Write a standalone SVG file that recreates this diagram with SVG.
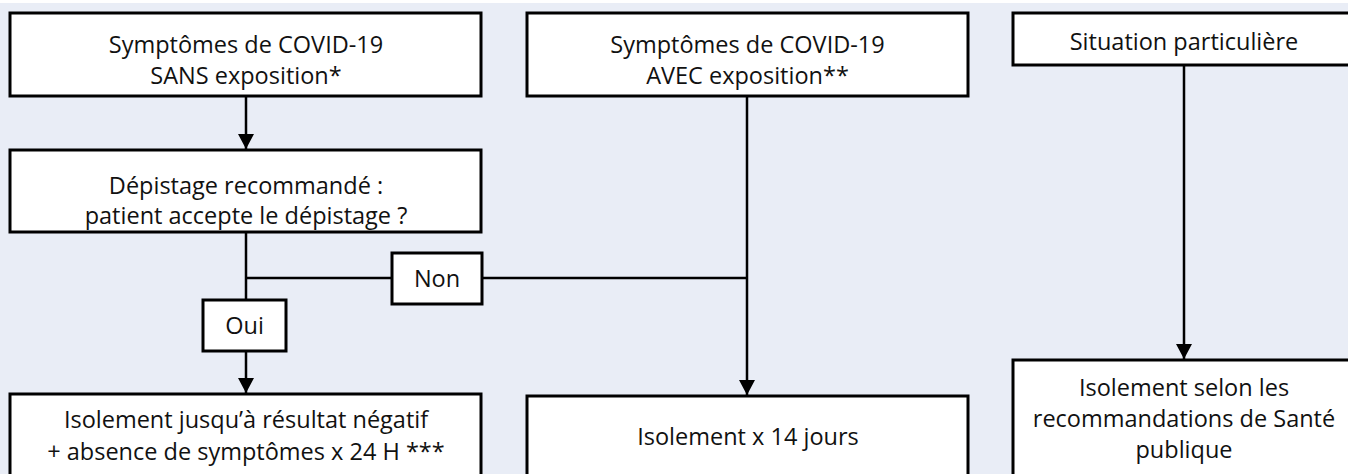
<svg xmlns="http://www.w3.org/2000/svg" width="1348" height="474" viewBox="0 0 1348 474">
  <defs>
    <marker id="arr" markerUnits="userSpaceOnUse" markerWidth="16" markerHeight="16" viewBox="0 0 16 16" refX="15" refY="8" orient="auto">
      <path d="M0,0 L15,8 L0,16 Z" fill="#000"/>
    </marker>
    <style>
      .box { fill: #ffffff; stroke: #000000; stroke-width: 3; }
      .lbl { font-family: "Open Sans", "Noto Sans", sans-serif; font-size: 23.5px; fill: #111111; text-anchor: middle; }
      .con { stroke: #000000; stroke-width: 2.5; fill: none; }
    </style>
  </defs>
  <rect x="0" y="0" width="1348" height="474" fill="#ffffff"/>
  <rect x="0" y="3" width="1348" height="471" fill="#E9EDF6"/>

  <g id="connectors">
    <line class="con" x1="246" y1="96" x2="246" y2="149" marker-end="url(#arr)"/>
    <line class="con" x1="246" y1="232" x2="246" y2="300"/>
    <line class="con" x1="246" y1="278" x2="392" y2="278"/>
    <line class="con" x1="482" y1="278" x2="747" y2="278"/>
    <line class="con" x1="246" y1="351" x2="246" y2="393" marker-end="url(#arr)"/>
    <line class="con" x1="747" y1="96" x2="747" y2="395" marker-end="url(#arr)"/>
    <line class="con" x1="1184" y1="65" x2="1184" y2="359" marker-end="url(#arr)"/>
  </g>

  <g id="node-sans">
    <rect class="box" x="10" y="13" width="471" height="83"/>
    <text class="lbl" x="246" y="53">Symptômes de COVID-19</text>
    <text class="lbl" x="246" y="84">SANS exposition*</text>
  </g>
  <g id="node-depistage">
    <rect class="box" x="10" y="150" width="471" height="82"/>
    <text class="lbl" x="246" y="194">Dépistage recommandé :</text>
    <text class="lbl" x="246" y="224">patient accepte le dépistage ?</text>
  </g>
  <g id="node-isolement-negatif">
    <rect class="box" x="10" y="394" width="471" height="100"/>
    <text class="lbl" x="246" y="428">Isolement jusqu’à résultat négatif</text>
    <text class="lbl" x="246" y="460">+ absence de symptômes x 24 H ***</text>
  </g>
  <g id="node-avec">
    <rect class="box" x="527" y="13" width="441" height="83"/>
    <text class="lbl" x="747.5" y="53">Symptômes de COVID-19</text>
    <text class="lbl" x="747.5" y="84">AVEC exposition**</text>
  </g>
  <g id="node-isolement-14">
    <rect class="box" x="527" y="396" width="441" height="100"/>
    <text class="lbl" x="748" y="445">Isolement x 14 jours</text>
  </g>
  <g id="node-situation">
    <rect class="box" x="1013" y="13" width="360" height="52"/>
    <text class="lbl" x="1184" y="50">Situation particulière</text>
  </g>
  <g id="node-isolement-sante">
    <rect class="box" x="1013" y="360" width="360" height="130"/>
    <text class="lbl" x="1184" y="396">Isolement selon les</text>
    <text class="lbl" x="1184" y="427">recommandations de Santé</text>
    <text class="lbl" x="1184" y="458">publique</text>
  </g>
  <g id="node-non">
    <rect class="box" x="392" y="253" width="90" height="51"/>
    <text class="lbl" x="437" y="287">Non</text>
  </g>
  <g id="node-oui">
    <rect class="box" x="203" y="300" width="83" height="51"/>
    <text class="lbl" x="244.5" y="334">Oui</text>
  </g>
</svg>
